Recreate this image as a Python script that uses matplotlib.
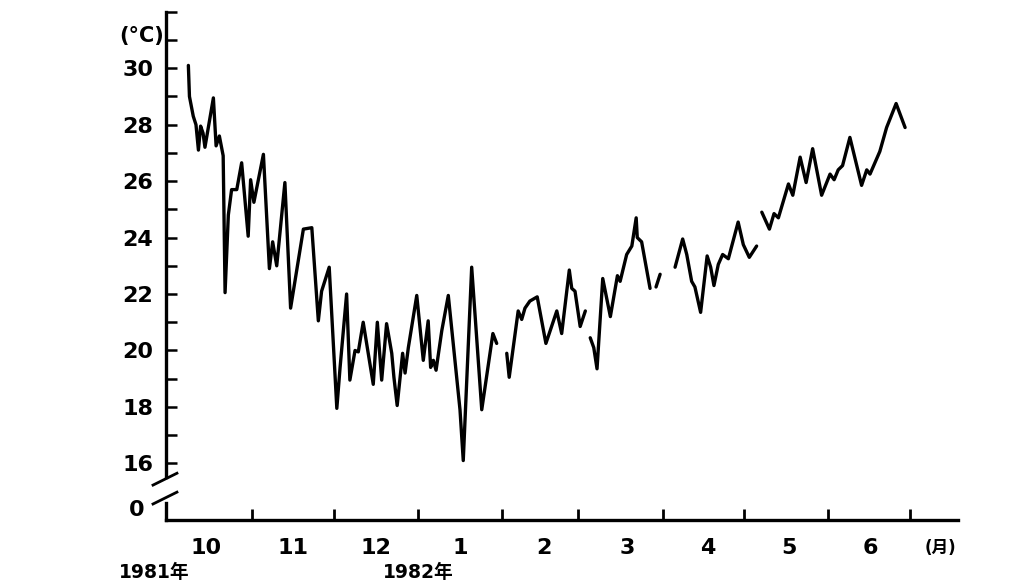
import numpy as np
import matplotlib
matplotlib.use("Agg")
import matplotlib.pyplot as plt
from matplotlib.lines import Line2D

plt.rcParams['font.family'] = ['DejaVu Sans', 'Noto Sans CJK JP']

# Days since 1981-10-01; NaN marks a break in the record
days = [7.6, 8.0, 9.4, 10.4, 11.3, 12.1, 13.0, 13.7, 16.8, 17.8, 19.0, 20.4, 21.1, 22.3,
        23.5, 25.4, 27.2, 29.6, 30.5, 31.7, 35.2, 37.4, 38.6, 40.1, 43.1, 45.2, 49.9,
        53.0, 55.4, 56.6, 59.4, 62.2, 63.4, 65.8, 67.0, 68.9, 70.1, 71.9, 75.6, 77.1,
        78.7, 80.5, 82.4, 83.2, 84.4, 86.4, 87.3, 88.5, 91.6, 94.0, 95.8, 96.7, 97.7,
        98.7, 100.8, 103.2, 107.5, 108.7, 111.8, 115.5, 119.6, 121.0, np.nan,
        124.7, 125.6, 128.9, 130.2, 131.4, 133.2, 135.9, 139.1, 143.1, 144.9, 147.7,
        148.6, 149.8, 151.7, 153.6, np.nan,
        155.4, 156.7, 157.9, 160.0, 162.8, 165.4, 166.4, 168.8, 170.7, 172.3, 172.7,
        174.3, 177.4, np.nan,
        179.6, 181.1, np.nan,
        186.6, 189.4, 190.9, 192.7, 193.9, 196.0, 198.4, 199.7, 200.9, 202.5, 204.1,
        206.2, 209.8, 211.7, 213.9, 216.6, np.nan,
        218.5, 221.3, 223.0, 224.6, 228.3, 229.9, 232.6, 234.8, 237.2, 240.5, 243.6,
        245.1, 246.6, 248.2, 250.9, 255.2, 257.1, 258.3, 261.9, 264.4, 267.9, 271.2]

temps = [30.1, 29.0, 28.3, 28.0, 27.1, 27.95, 27.7, 27.2, 28.95, 27.25, 27.6, 26.9, 22.05, 24.8,
         25.7, 25.7, 26.65, 24.05, 26.05, 25.25, 26.95, 22.9, 23.85, 23.0, 25.95, 21.5, 24.3,
         24.35, 21.05, 22.1, 22.95, 17.95, 19.4, 22.0, 18.95, 20.0, 19.95, 21.0, 18.8, 21.0,
         18.95, 20.95, 19.9, 19.05, 18.05, 19.9, 19.2, 20.1, 21.95, 19.65, 21.05, 19.4, 19.65,
         19.3, 20.7, 21.95, 17.9, 16.1, 22.95, 17.9, 20.6, 20.25, np.nan,
         19.9, 19.05, 21.4, 21.1, 21.5, 21.75, 21.9, 20.25, 21.4, 20.6, 22.85,
         22.2, 22.1, 20.85, 21.4, np.nan,
         20.45, 20.1, 19.35, 22.55, 21.2, 22.65, 22.45, 23.4, 23.7, 24.7, 24.0,
         23.85, 22.2, np.nan,
         22.25, 22.7, np.nan,
         22.95, 23.95, 23.4, 22.45, 22.25, 21.35, 23.35, 22.95, 22.3, 23.05, 23.4,
         23.25, 24.55, 23.75, 23.3, 23.7, np.nan,
         24.9, 24.3, 24.85, 24.7, 25.9, 25.5, 26.85, 25.95, 27.15, 25.5, 26.25,
         26.05, 26.4, 26.55, 27.55, 25.85, 26.4, 26.25, 27.05, 27.9, 28.75, 27.9]

month_starts = [31, 61, 92, 123, 151, 182, 212, 243, 273]
month_mid = [14, 46, 76.5, 107.5, 138.5, 169, 198.5, 228.5, 258.5]
month_labels = ['10', '11', '12', '1', '2', '3', '4', '5', '6']
y_major = [16, 18, 20, 22, 24, 26, 28, 30]
y_minor = [17, 19, 21, 23, 25, 27, 29, 31, 32]

W, H = 1029, 582
fig = plt.figure(figsize=(W / 100, H / 100), dpi=100)
fig.patch.set_facecolor('white')

left_px, right_px, top_px, bot_px = 166, 958, 10, 520
ax = fig.add_axes([left_px / W, 1 - bot_px / H, (right_px - left_px) / W, (bot_px - top_px) / H])

px_per_day = 2.719
x0_px = 167.7
ax.set_xlim((left_px - x0_px) / px_per_day, (right_px - x0_px) / px_per_day)
px_per_deg = 28.3
ax.set_ylim(30 - (bot_px - 67) / px_per_deg, 30 + (67 - top_px) / px_per_deg + 0.05)

ax.plot(days, temps, color='black', lw=2.4, solid_joinstyle='round', solid_capstyle='round')

for s in ['top', 'right', 'left']:
    ax.spines[s].set_visible(False)
ax.spines['bottom'].set_linewidth(2.4)

# broken left axis
xl = ax.get_xlim()[0]
ax.add_line(Line2D([xl, xl], [15.5, 32.0], color='black', lw=2.4, clip_on=False))
ax.add_line(Line2D([xl, xl], [ax.get_ylim()[0], 14.6], color='black', lw=2.4, clip_on=False))
ax.add_line(Line2D([-5.4, 3.4], [15.23, 15.65], color='black', lw=2.0, clip_on=False))
ax.add_line(Line2D([-5.4, 3.4], [14.56, 14.98], color='black', lw=2.0, clip_on=False))

ax.set_yticks(y_major)
ax.set_yticks(y_minor, minor=True)
ax.tick_params(axis='y', which='both', direction='in', length=8, width=1.8, pad=9,
               labelsize=16)
for lab in ax.get_yticklabels():
    lab.set_fontweight('bold')
ax.text(-8.6, 14.35, '0', ha='right', va='center', fontsize=16, fontweight='bold')
ax.text(-1.5, 31.15, '(°C)', ha='right', va='center', fontsize=15, fontweight='bold')

ax.set_xticks(month_starts)
ax.set_xticklabels([])
ax.tick_params(axis='x', which='major', direction='in', length=8, width=2)
ax.set_xticks(month_mid, minor=True)
ax.set_xticklabels(month_labels, minor=True, fontsize=16, fontweight='bold')
ax.tick_params(axis='x', which='minor', length=0, pad=13)

fig.text(940 / W, 1 - 548 / H, '(月)', ha='center', va='center',
         fontsize=12, fontweight='bold')
fig.text(154 / W, 1 - 573 / H, '1981年', ha='center', va='center', fontsize=13.5, fontweight='bold')
fig.text(418 / W, 1 - 573 / H, '1982年', ha='center', va='center', fontsize=13.5, fontweight='bold')

fig.savefig('out.png', dpi=100)
